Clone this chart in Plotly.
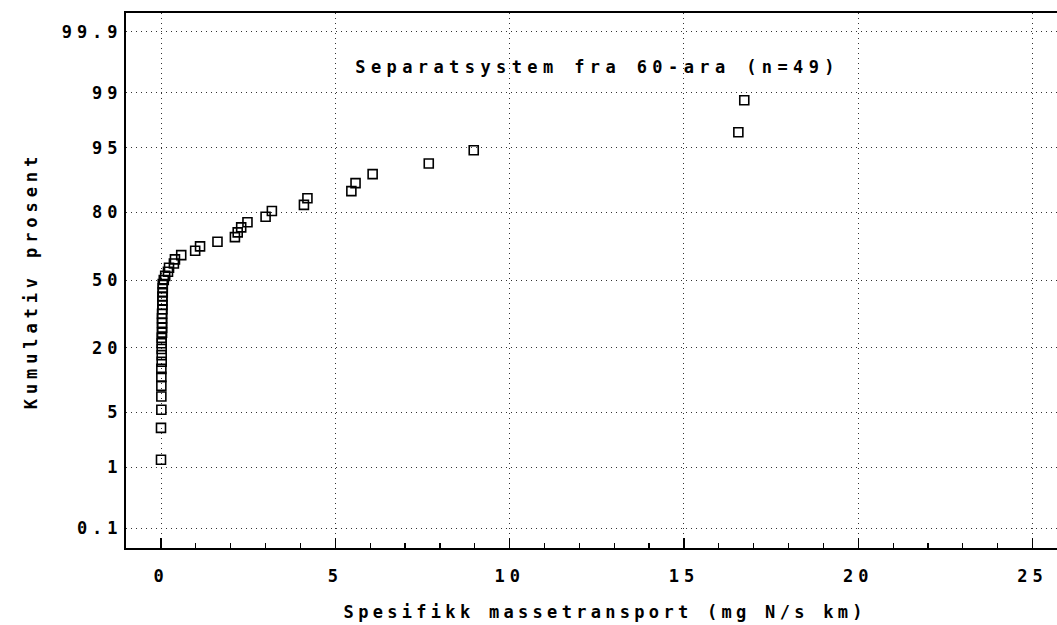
import plotly.graph_objects as go
from statistics import NormalDist

# ---- data ----
transport = [
    0.00, 0.00, 0.01, 0.01, 0.01, 0.01, 0.01, 0.02, 0.02, 0.02,
    0.02, 0.02, 0.03, 0.03, 0.03, 0.03, 0.03, 0.04, 0.04, 0.04,
    0.04, 0.05, 0.05, 0.05, 0.08, 0.12, 0.20, 0.23, 0.37, 0.40,
    0.58, 0.98, 1.12, 1.62, 2.12, 2.20, 2.30, 2.48, 3.00, 3.18,
    4.10, 4.20, 5.46, 5.58, 6.07, 7.68, 8.97, 16.56, 16.73,
]
cum_percent = [
    1.27, 3.30, 5.33, 7.36, 9.39, 11.42, 13.45, 15.48, 17.51, 19.54,
    21.57, 23.60, 25.63, 27.67, 29.70, 31.73, 33.76, 35.79, 37.82, 39.85,
    41.88, 43.91, 45.94, 47.97, 50.00, 52.03, 54.06, 56.09, 58.12, 60.15,
    62.18, 64.21, 66.24, 68.27, 70.30, 72.34, 74.37, 76.40, 78.43, 80.46,
    82.49, 84.52, 86.55, 88.58, 90.61, 92.64, 94.67, 96.70, 98.73,
]
y_tick_percent = [0.1, 1, 5, 20, 50, 80, 95, 99, 99.9]
y_tick_labels = ["0.1", "1", "5", "20", "50", "80", "95", "99", "99.9"]
x_tick_values = [0, 5, 10, 15, 20, 25]
x_tick_labels = ["0", "5", "10", "15", "20", "25"]

title_text = "Separatsystem fra 60-ara (n=49)"
x_title = "Spesifikk massetransport (mg N/s km)"
y_title = "Kumulativ prosent"

# normal-probability scale
nd = NormalDist()
def probit(p):
    return nd.inv_cdf(p / 100.0)

FONT = "DejaVu Sans Mono"
TXT = dict(family=FONT, size=17, color="black", weight="bold")

fig = go.Figure()
fig.add_trace(go.Scatter(
    x=transport,
    y=[probit(p) for p in cum_percent],
    mode="markers",
    marker=dict(symbol="square-open", size=9, color="black",
                line=dict(width=1.6, color="black")),
    showlegend=False,
    hoverinfo="skip",
))

grid = dict(showgrid=True, gridcolor="#333", gridwidth=1, griddash="1px,4px")

fig.update_layout(
    width=1057, height=625,
    margin=dict(l=126, r=0, t=13, b=77),
    paper_bgcolor="white", plot_bgcolor="white",
    font=TXT,
    hovermode=False,
    xaxis=dict(
        range=[-1.004, 25.70], tickvals=x_tick_values, ticktext=x_tick_labels,
        ticks="inside", ticklen=10, tickwidth=1.5, tickcolor="black",
        minor=dict(dtick=1, tick0=0, ticks="inside", ticklen=5, tickwidth=1.2,
                   tickcolor="black", showgrid=False),
        showline=True, linewidth=2, linecolor="black", mirror=True,
        zeroline=False, ticklabelstandoff=12,
        tickfont=TXT,
        **grid,
    ),
    yaxis=dict(
        range=[-3.333, 3.321],
        tickvals=[probit(p) for p in y_tick_percent], ticktext=y_tick_labels,
        ticks="", showline=True, linewidth=2, linecolor="black", mirror=False,
        zeroline=False, ticklabelstandoff=-2,
        tickfont=TXT,
        **grid,
    ),
    annotations=[
        dict(text=title_text, xref="paper", yref="paper", x=0.506, y=0.899,
             xanchor="center", yanchor="middle", showarrow=False, font=TXT),
        dict(text=x_title, xref="paper", yref="paper", x=0.515, y=-0.1196,
             xanchor="center", yanchor="middle", showarrow=False, font=TXT),
        dict(text=y_title, xref="paper", yref="paper", x=-0.103, y=0.50,
             xanchor="center", yanchor="middle", showarrow=False, textangle=-90,
             font=TXT),
    ],
)

post = """
document.body.style.margin='0';
document.body.style.padding='0';
var s=document.createElement('style');
s.textContent='.xtick text, .ytick text {letter-spacing:5px;} '
 + 'g.annotation[data-index="0"] text {letter-spacing:5.4px;} '
 + 'g.annotation[data-index="1"] text {letter-spacing:4.3px;} '
 + 'g.annotation[data-index="2"] text {letter-spacing:4.9px;}';
document.head.appendChild(s);
"""
fig.write_html("out.html", post_script=post,
               config={"displayModeBar": False, "staticPlot": True})
